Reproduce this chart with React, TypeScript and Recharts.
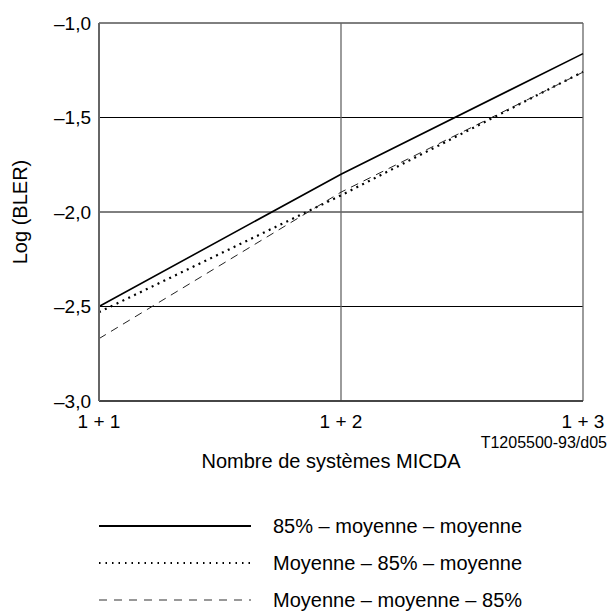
import { CartesianGrid, Label, Legend, Line, LineChart, XAxis, YAxis } from 'recharts'

const categories = ['1 + 1', '1 + 2', '1 + 3']
const seriesA = [-2.5, -1.8, -1.162]
const seriesB = [-2.53, -1.912, -1.258]
const seriesC = [-2.67, -1.895, -1.26]
const yTicks = [-3, -2.5, -2, -1.5, -1]

const seriesNames = [
  '85% – moyenne – moyenne',
  'Moyenne – 85% – moyenne',
  'Moyenne – moyenne – 85%',
]

const data = categories.map((label, i) => ({
  label,
  a: seriesA[i],
  b: seriesB[i],
  c: seriesC[i],
}))

const FONT = '"Liberation Sans", Arial, sans-serif'

const lineStyles: Record<string, { dash?: string; width: number; color: string }> = {
  a: { width: 1.6, color: '#000' },
  b: { dash: '2 4.5', width: 2.2, color: '#000' },
  c: { dash: '8 6', width: 1, color: '#222' },
}

const legendStyles: Record<string, { dash?: string; width: number; color: string }> = {
  a: { width: 2, color: '#000' },
  b: { dash: '1.5 5', width: 2, color: '#000' },
  c: { dash: '8 7', width: 1.5, color: '#777' },
}

const formatTick = (v: number) => v.toFixed(1).replace('.', ',').replace('-', '–')

const LegendBlock = (props: any) => {
  const items = props.payload || []
  return (
    <svg width={609} height={141} style={{ display: 'block' }}>
      {items.map((item: any, i: number) => {
        const s = legendStyles[item.dataKey]
        const y = 55 + i * 37
        return (
          <g key={item.dataKey}>
            <line
              x1={99}
              x2={251}
              y1={y}
              y2={y}
              stroke={s.color}
              strokeWidth={s.width}
              strokeDasharray={s.dash}
            />
            <text x={273} y={y} dominantBaseline="central" fontSize={20} fontFamily={FONT} fill="#000">
              {item.value}
            </text>
          </g>
        )
      })}
    </svg>
  )
}

export default function App() {
  return (
    <div style={{ position: 'absolute', left: 0, top: 0, fontFamily: FONT }}>
      <LineChart width={609} height={612} data={data} margin={{ top: 23, right: 26, left: 0, bottom: 0 }}>
        <CartesianGrid stroke="#000" strokeWidth={1} vertical={false} />
        <CartesianGrid stroke="#666" strokeWidth={1.3} horizontal={false} />
        <XAxis
          dataKey="label"
          height={70}
          tickSize={0}
          tickMargin={14}
          tickLine={false}
          axisLine={{ stroke: '#333', strokeWidth: 1.5 }}
          tick={{ fill: '#000', fontSize: 19, fontFamily: FONT }}
        >
          <Label
            content={({ viewBox }: any) => (
              <text
                x={viewBox.x + viewBox.width / 2 - 10}
                y={viewBox.y + 67}
                textAnchor="middle"
                fontSize={20}
                fontFamily={FONT}
                fill="#000"
              >
                Nombre de systèmes MICDA
              </text>
            )}
          />
          <Label
            content={({ viewBox }: any) => (
              <text x={607} y={viewBox.y + 47} textAnchor="end" fontSize={16} fontFamily={FONT} fill="#000">
                T1205500-93/d05
              </text>
            )}
          />
        </XAxis>
        <YAxis
          width={99}
          domain={[-3, -1]}
          ticks={yTicks}
          tickFormatter={formatTick}
          tickSize={0}
          tickMargin={8}
          tickLine={false}
          axisLine={{ stroke: '#666', strokeWidth: 2 }}
          tick={{ fill: '#000', fontSize: 19, fontFamily: FONT }}
        >
          <Label
            content={({ viewBox }: any) => (
              <text
                x={20}
                y={viewBox.y + viewBox.height / 2}
                transform={`rotate(-90 20 ${viewBox.y + viewBox.height / 2})`}
                textAnchor="middle"
                dominantBaseline="central"
                fontSize={20}
                fontFamily={FONT}
                fill="#000"
              >
                Log (BLER)
              </text>
            )}
          />
        </YAxis>
        <Legend verticalAlign="bottom" content={<LegendBlock />} />
        {(['a', 'b', 'c'] as const).map((key, i) => (
          <Line
            key={key}
            type="linear"
            dataKey={key}
            name={seriesNames[i]}
            stroke={lineStyles[key].color}
            strokeWidth={lineStyles[key].width}
            strokeDasharray={lineStyles[key].dash}
            dot={false}
            activeDot={false}
            isAnimationActive={false}
          />
        ))}
      </LineChart>
    </div>
  )
}
